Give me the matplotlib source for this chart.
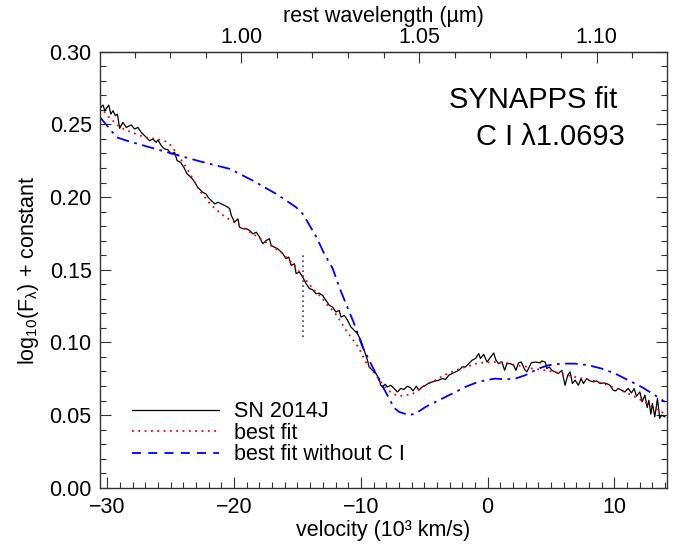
import matplotlib
matplotlib.use("Agg")
import matplotlib.pyplot as plt
from matplotlib.lines import Line2D

plt.rcParams['font.family'] = ['Liberation Sans', 'DejaVu Sans']
plt.rcParams['mathtext.fontset'] = 'custom'
plt.rcParams['mathtext.rm'] = 'Liberation Sans'
plt.rcParams['mathtext.it'] = 'Liberation Sans'
plt.rcParams['mathtext.default'] = 'regular'

# =====================
# data (velocity in 10^3 km/s, log10 flux + const)
# =====================
obs_v = [-30.55, -30.34, -30.20, -29.89, -29.73, -29.55, -29.37, -29.21, -29.03, -28.77,
         -28.51, -28.11, -27.85, -27.59, -27.33, -26.93, -26.67, -26.41, -26.15, -26.01,
         -25.75, -25.49, -25.23, -24.97, -24.70, -24.50, -24.23, -23.97, -23.71, -23.40,
         -23.13, -22.87, -22.48, -22.22, -22.06, -21.79, -21.53, -21.27, -21.01, -20.75,
         -20.49, -20.35, -20.22, -19.96, -19.70, -19.57, -19.31, -19.04, -18.78, -18.52,
         -18.25, -17.99, -17.74, -17.47, -17.21, -17.08, -16.82, -16.56, -16.42, -16.16,
         -15.90, -15.69, -15.50, -15.24, -15.11, -14.85, -14.59, -14.32, -14.06, -13.81,
         -13.54, -13.28, -13.02, -12.75, -12.49, -12.23, -11.97, -11.71, -11.57, -11.31,
         -11.05, -10.79, -10.53, -10.27, -10.00, -9.74, -9.48, -9.35, -9.09, -8.82,
         -8.56, -8.43, -8.30, -8.09, -7.91, -7.64, -7.38, -7.12, -6.86, -6.60,
         -6.34, -6.07, -5.89, -5.63, -5.42, -5.16, -4.89, -4.63, -4.37, -4.10,
         -3.84, -3.58, -3.32, -3.06, -2.80, -2.53, -2.27, -2.01, -1.75, -1.49,
         -1.23, -0.96, -0.70, -0.57, -0.31, -0.05, 0.22, 0.48, 0.66, 0.87,
         1.13, 1.34, 1.52, 1.79, 2.05, 2.23, 2.44, 2.66, 2.92, 3.10,
         3.44, 3.76, 4.15, 4.28, 4.54, 4.67, 4.86, 5.06, 5.33, 5.59,
         5.85, 6.11, 6.32, 6.51, 6.69, 6.90, 7.16, 7.37, 7.56, 7.81,
         8.08, 8.34, 8.60, 8.87, 9.13, 9.39, 9.65, 9.91, 10.09, 10.31,
         10.57, 10.83, 11.09, 11.35, 11.56, 11.74, 12.01, 12.19, 12.41, 12.59,
         12.72, 12.88, 13.00, 13.19, 13.40, 13.58, 13.71, 13.98]
obs_f = [0.2617, 0.2633, 0.2594, 0.2633, 0.2571, 0.2594, 0.2560, 0.2571, 0.2473, 0.2514,
         0.2479, 0.2496, 0.2468, 0.2479, 0.2445, 0.2411, 0.2388, 0.2400, 0.2376, 0.2393,
         0.2354, 0.2331, 0.2326, 0.2297, 0.2308, 0.2251, 0.2239, 0.2205, 0.2159, 0.2136,
         0.2106, 0.2067, 0.2033, 0.2022, 0.1999, 0.1976, 0.1953, 0.1964, 0.1953, 0.1942,
         0.1930, 0.1919, 0.1873, 0.1827, 0.1850, 0.1793, 0.1782, 0.1782, 0.1770, 0.1747,
         0.1758, 0.1724, 0.1679, 0.1701, 0.1713, 0.1667, 0.1655, 0.1644, 0.1633, 0.1610,
         0.1576, 0.1587, 0.1530, 0.1541, 0.1473, 0.1484, 0.1449, 0.1404, 0.1370, 0.1363,
         0.1335, 0.1339, 0.1323, 0.1289, 0.1255, 0.1243, 0.1209, 0.1220, 0.1174, 0.1186,
         0.1152, 0.1106, 0.1083, 0.1060, 0.1014, 0.0946, 0.0877, 0.0831, 0.0808, 0.0786,
         0.0751, 0.0705, 0.0694, 0.0712, 0.0694, 0.0705, 0.0683, 0.0659, 0.0683, 0.0676,
         0.0698, 0.0687, 0.0666, 0.0698, 0.0671, 0.0694, 0.0705, 0.0721, 0.0728, 0.0735,
         0.0740, 0.0751, 0.0745, 0.0774, 0.0786, 0.0797, 0.0808, 0.0831, 0.0831, 0.0854,
         0.0877, 0.0889, 0.0923, 0.0889, 0.0918, 0.0865, 0.0896, 0.0927, 0.0877, 0.0854,
         0.0865, 0.0808, 0.0854, 0.0854, 0.0842, 0.0808, 0.0859, 0.0865, 0.0813, 0.0797,
         0.0859, 0.0865, 0.0859, 0.0872, 0.0865, 0.0820, 0.0831, 0.0808, 0.0797, 0.0786,
         0.0808, 0.0705, 0.0774, 0.0797, 0.0717, 0.0740, 0.0705, 0.0751, 0.0717, 0.0751,
         0.0735, 0.0728, 0.0735, 0.0717, 0.0721, 0.0717, 0.0705, 0.0671, 0.0666, 0.0683,
         0.0671, 0.0659, 0.0683, 0.0652, 0.0683, 0.0630, 0.0659, 0.0591, 0.0637, 0.0552,
         0.0602, 0.0506, 0.0580, 0.0488, 0.0614, 0.0477, 0.0499, 0.0488]

fit_v = [-30.57, -29.94, -29.00, -28.43, -27.06, -26.15, -25.49, -24.97, -24.31, -23.79,
         -23.40, -22.74, -21.79, -20.75, -20.22, -19.31, -18.52, -17.34, -16.29, -15.11,
         -14.85, -14.20, -13.67, -13.14, -12.63, -12.10, -11.57, -11.18, -10.79, -10.39,
         -10.00, -9.61, -9.21, -8.82, -8.43, -7.99, -7.52, -6.99, -6.46, -5.94,
         -5.16, -4.37, -3.45, -2.53, -1.75, -0.70, 0.35, 1.27, 2.19, 3.23,
         3.49, 4.54, 5.59, 6.90, 8.21, 9.52, 10.83, 11.88, 12.80, 13.71, 13.98]
fit_f = [0.2624, 0.2555, 0.2480, 0.2457, 0.2411, 0.2400, 0.2388, 0.2354, 0.2273, 0.2205,
         0.2148, 0.2045, 0.1942, 0.1866, 0.1839, 0.1788, 0.1747, 0.1679, 0.1621, 0.1518,
         0.1484, 0.1415, 0.1358, 0.1312, 0.1255, 0.1209, 0.1140, 0.1083, 0.1037, 0.0992,
         0.0934, 0.0865, 0.0820, 0.0774, 0.0728, 0.0683, 0.0648, 0.0630, 0.0637, 0.0644,
         0.0694, 0.0728, 0.0774, 0.0808, 0.0831, 0.0859, 0.0865, 0.0865, 0.0843, 0.0831,
         0.0820, 0.0808, 0.0790, 0.0762, 0.0740, 0.0705, 0.0659, 0.0614, 0.0568, 0.0522, 0.0511]

noc_v = [-30.57, -29.26, -28.47, -26.64, -24.81, -22.71, -20.35, -18.52, -16.68, -15.11,
         -14.59, -13.54, -12.89, -12.23, -11.71, -11.18, -10.53, -9.87, -9.21, -8.56,
         -7.91, -7.38, -6.99, -6.20, -5.68, -4.89, -4.10, -3.32, -2.53, -1.75,
         -0.96, -0.17, 0.61, 1.40, 2.19, 2.97, 3.49, 4.02, 4.80, 5.85,
         6.90, 7.95, 8.99, 10.05, 11.09, 12.14, 13.19, 13.98]
noc_f = [0.2548, 0.2411, 0.2388, 0.2342, 0.2297, 0.2246, 0.2194, 0.2113, 0.2022, 0.1930,
         0.1885, 0.1730, 0.1610, 0.1510, 0.1381, 0.1266, 0.1129, 0.0968, 0.0854, 0.0740,
         0.0637, 0.0550, 0.0522, 0.0499, 0.0511, 0.0556, 0.0591, 0.0625, 0.0659, 0.0694,
         0.0721, 0.0740, 0.0751, 0.0745, 0.0751, 0.0774, 0.0797, 0.0820, 0.0843, 0.0854,
         0.0854, 0.0843, 0.0820, 0.0786, 0.0740, 0.0694, 0.0637, 0.0591]

MARK_V = -14.6
MARK_F = [0.104, 0.162]
LAM0 = 1.0693          # micron
C_KMS = 299.792458     # 10^3 km/s

FS = 15.5

# =====================
# plot
# =====================
fig = plt.figure(figsize=(6.74, 5.45), dpi=100)
ax = fig.add_axes([0.1484, 0.1051, 0.8408, 0.80])

ax.plot(obs_v, obs_f, color='black', lw=0.9)
ax.plot(fit_v, fit_f, color='red', lw=1.3, linestyle=(0, (1, 2.5)))
ax.plot(noc_v, noc_f, color='blue', lw=1.3, linestyle=(0, (7, 3, 1.5, 3)))
ax.plot([MARK_V, MARK_V], MARK_F, color='#444444', lw=1.2, linestyle=(0, (1, 2)))

ax.set_xlim(-30.58, 14.13)
ax.set_ylim(0.0, 0.30)
ax.set_xticks([-30, -20, -10, 0, 10])
ax.set_xticklabels(['\u221230', '\u221220', '\u221210', '0', '10'])
ax.set_xticks(range(-30, 15), minor=True)
ax.set_yticks([0.0, 0.05, 0.10, 0.15, 0.20, 0.25, 0.30])
ax.set_yticklabels(['0.00', '0.05', '0.10', '0.15', '0.20', '0.25', '0.30'])
ax.set_yticks([i / 100 for i in range(31)], minor=True)
ax.tick_params(which='both', direction='in', right=True, labelsize=FS, width=0.8, color='#333333')
ax.tick_params(axis='y', which='major', length=8, pad=6)
ax.tick_params(axis='x', which='major', length=8, pad=7)
ax.tick_params(which='minor', length=4)
for s in ax.spines.values():
    s.set_linewidth(1.0)
    s.set_color('#333333')

ax.set_xlabel('velocity (10\u00b3 km/s)', fontsize=FS, labelpad=1)
ax.set_ylabel('log$_{10}$(F$_{\u03bb}$) + constant', fontsize=FS, labelpad=6)

# top axis: rest wavelength
top = ax.secondary_xaxis('top', functions=(lambda v: LAM0 * (1 + v / C_KMS),
                                           lambda w: (w / LAM0 - 1) * C_KMS))
top.set_xticks([1.00, 1.05, 1.10])
top.set_xticklabels(['1.00', '1.05', '1.10'])
top.set_xticks([0.97 + i / 100 for i in range(15)], minor=True)
top.tick_params(which='both', direction='in', labelsize=FS, width=0.8, color='#333333')
top.tick_params(which='major', length=8, pad=3)
top.tick_params(which='minor', length=4)
top.set_xlabel('rest wavelength (\u00b5m)', fontsize=FS, labelpad=3)

ax.text(0.912, 0.889, 'SYNAPPS fit', transform=ax.transAxes, fontsize=21,
        ha='right', va='center')
ax.text(0.926, 0.804, 'C I \u03bb1.0693', transform=ax.transAxes, fontsize=21,
        ha='right', va='center')

handles = [Line2D([], [], color='black', lw=0.9),
           Line2D([], [], color='red', lw=1.3, linestyle=(0, (1, 2.5))),
           Line2D([], [], color='blue', lw=1.3, linestyle=(0, (5, 4)))]
labels = ['SN 2014J', 'best fit', 'best fit without C I']
ax.legend(handles, labels, loc='lower left', bbox_to_anchor=(0.042, 0.032),
          frameon=False, fontsize=FS, handlelength=4.0, handletextpad=0.7,
          labelspacing=0.02, borderaxespad=0)

fig.savefig('out.png', dpi=100)
